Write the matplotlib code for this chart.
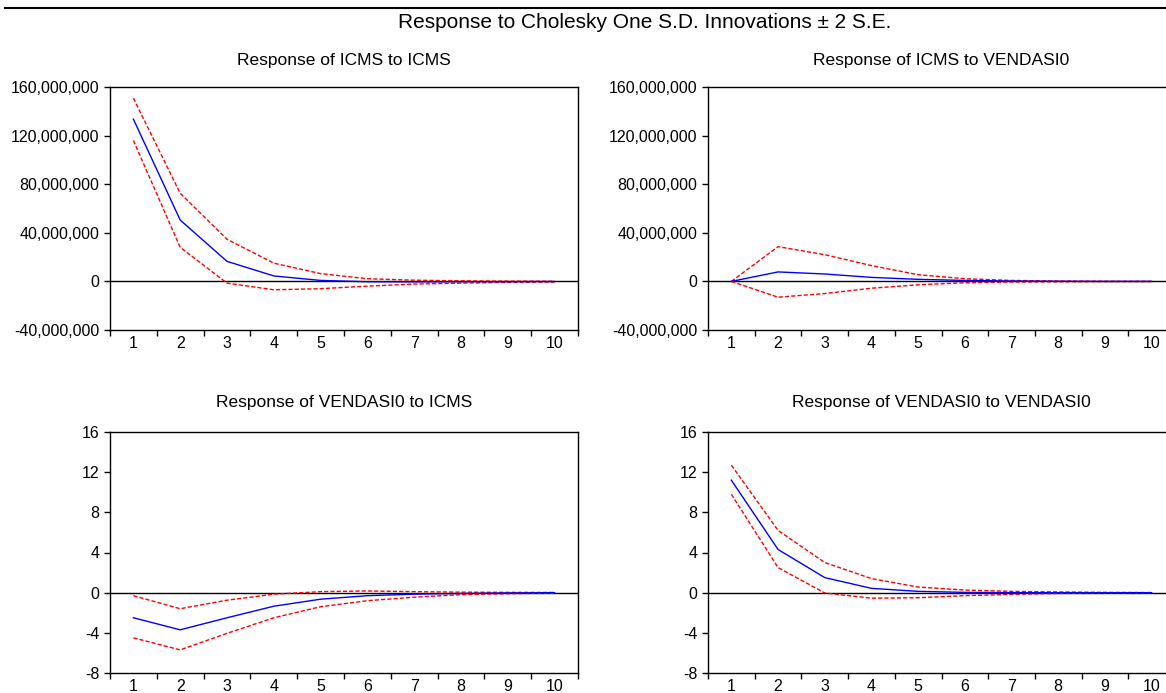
#!/usr/bin/env python3

import matplotlib
matplotlib.use('Agg')
import matplotlib.pyplot as plt
from matplotlib.ticker import FuncFormatter

plt.rcParams['font.family'] = ['Liberation Sans', 'DejaVu Sans']

periods = list(range(1, 11))

# Response of ICMS to ICMS
icms_icms = [133.5e6, 50.5e6, 16.5e6, 4.5e6, 0.8e6, -0.3e6, -0.4e6, -0.3e6, -0.2e6, -0.1e6]
icms_icms_hi = [150.8e6, 72.5e6, 34.7e6, 15.0e6, 6.4e6, 2.2e6, 1.0e6, 0.5e6, 0.2e6, 0.1e6]
icms_icms_lo = [116.0e6, 28.0e6, -1.4e6, -6.9e6, -6.0e6, -3.9e6, -2.2e6, -1.4e6, -0.8e6, -0.5e6]

# Response of ICMS to VENDASI0
icms_vend = [0.0, 7.8e6, 6.1e6, 3.3e6, 1.7e6, 0.8e6, 0.3e6, 0.1e6, 0.0, 0.0]
icms_vend_hi = [0.0, 28.6e6, 22.0e6, 13.0e6, 5.5e6, 2.2e6, 0.8e6, 0.3e6, 0.1e6, 0.0]
icms_vend_lo = [0.0, -13.0e6, -10.0e6, -5.6e6, -2.8e6, -1.1e6, -0.5e6, -0.3e6, -0.2e6, -0.1e6]

# Response of VENDASI0 to ICMS
vend_icms = [-2.5, -3.7, -2.5, -1.35, -0.65, -0.3, -0.15, -0.08, -0.03, 0.0]
vend_icms_hi = [-0.3, -1.6, -0.75, -0.15, 0.1, 0.17, 0.1, 0.05, 0.03, 0.02]
vend_icms_lo = [-4.5, -5.7, -4.05, -2.5, -1.4, -0.8, -0.45, -0.2, -0.1, -0.05]

# Response of VENDASI0 to VENDASI0
vend_vend = [11.2, 4.3, 1.5, 0.43, 0.13, 0.03, 0.0, -0.01, -0.01, 0.0]
vend_vend_hi = [12.7, 6.2, 3.0, 1.4, 0.56, 0.26, 0.13, 0.07, 0.03, 0.01]
vend_vend_lo = [9.8, 2.5, -0.03, -0.55, -0.5, -0.3, -0.17, -0.08, -0.03, -0.01]

W, H = 1166, 693
TICK_FS = 11.5


def px_axes(fig, left, top, right, bottom):
    return fig.add_axes([left / W, (H - bottom) / H, (right - left) / W, (bottom - top) / H])


def draw_panel(fig, ax, title, title_y, resp, hi, lo, ylim, yticks):
    ax.axhline(0, color='black', lw=1.0, zorder=1)
    ax.plot(periods, resp, color='#0000ff', lw=1.0, zorder=3)
    ax.plot(periods, hi, color='#ff0000', lw=1.0, ls=(0, (3, 1.5)), zorder=2)
    ax.plot(periods, lo, color='#ff0000', lw=1.0, ls=(0, (3, 1.5)), zorder=2)
    ax.set_xlim(0.5, 10.5)
    ax.set_ylim(*ylim)
    ax.set_yticks(yticks)
    ax.yaxis.set_major_formatter(FuncFormatter(lambda v, p: f'{v:,.0f}'))
    # ticks between periods, labels on periods
    ax.set_xticks([i + 0.5 for i in range(0, 11)])
    ax.set_xticklabels([])
    ax.set_xticks(periods, minor=True)
    ax.set_xticklabels([str(p) for p in periods], minor=True)
    ax.tick_params(axis='x', which='major', direction='out', length=4, width=1)
    ax.tick_params(axis='x', which='minor', length=0, pad=4.5, labelsize=TICK_FS)
    ax.tick_params(axis='y', direction='out', length=4.3, width=1, pad=3.5, labelsize=TICK_FS)
    for s in ax.spines.values():
        s.set_linewidth(1.0)
    pos = ax.get_position()
    fig.text((pos.x0 + pos.x1) / 2, (H - title_y) / H, title,
             ha='center', va='center', fontsize=12.5)


fig = plt.figure(figsize=(W / 100, H / 100), dpi=100)

ax1 = px_axes(fig, 110, 87, 578, 330)
ax2 = px_axes(fig, 708, 87, 1175, 330)
ax3 = px_axes(fig, 110, 432, 578, 673)
ax4 = px_axes(fig, 708, 432, 1175, 673)

big = (-40e6, 160e6)
big_ticks = [-40e6, 0, 40e6, 80e6, 120e6, 160e6]
small = (-8, 16)
small_ticks = [-8, -4, 0, 4, 8, 12, 16]

draw_panel(fig, ax1, 'Response of ICMS to ICMS', 60, icms_icms, icms_icms_hi, icms_icms_lo, big, big_ticks)
draw_panel(fig, ax2, 'Response of ICMS to VENDASI0', 60, icms_vend, icms_vend_hi, icms_vend_lo, big, big_ticks)
draw_panel(fig, ax3, 'Response of VENDASI0 to ICMS', 402, vend_icms, vend_icms_hi, vend_icms_lo, small, small_ticks)
draw_panel(fig, ax4, 'Response of VENDASI0 to VENDASI0', 402, vend_vend, vend_vend_hi, vend_vend_lo, small, small_ticks)

fig.add_artist(plt.Line2D([5 / W, 1.0], [(H - 8) / H, (H - 8) / H], color='black', lw=1.5))
fig.text(645 / W, (H - 22) / H, 'Response to Cholesky One S.D. Innovations \u00b1 2 S.E.',
         ha='center', va='center', fontsize=15)

fig.savefig('out.png', dpi=100)
